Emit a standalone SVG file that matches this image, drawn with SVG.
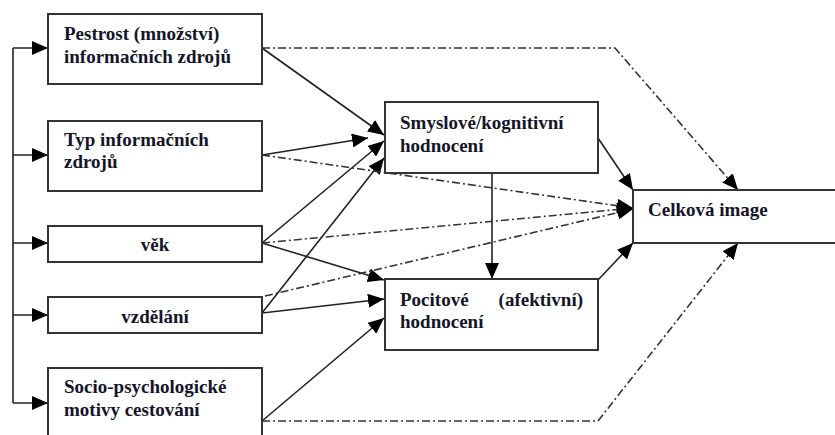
<svg xmlns="http://www.w3.org/2000/svg" width="835" height="435" viewBox="0 0 835 435">
<style>
.box{fill:#fff;stroke:#333;stroke-width:2}
.t{font-family:"Liberation Serif","Times New Roman",serif;font-weight:bold;font-size:19px;fill:#15152a}
.s{fill:none;stroke:#222;stroke-width:1.6}
.d{fill:none;stroke:#333;stroke-width:1.6;stroke-dasharray:8,3,2,3}
</style>
<defs>
<marker id="a" markerUnits="userSpaceOnUse" markerWidth="18" markerHeight="14" refX="16" refY="7" orient="auto">
<path d="M0,0 L16,7 L0,14 z" fill="#000"/>
</marker>
</defs>
<rect width="835" height="435" fill="#fff"/>
<g id="connectors">
<path class="s" d="M13,48 V403"/>
<path class="s" marker-end="url(#a)" d="M13,48 H48"/>
<path class="s" marker-end="url(#a)" d="M13,155 H48"/>
<path class="s" marker-end="url(#a)" d="M13,243 H48"/>
<path class="s" marker-end="url(#a)" d="M13,315 H48"/>
<path class="s" marker-end="url(#a)" d="M13,403 H48"/>
<path class="s" marker-end="url(#a)" d="M262,48 L384,135"/>
<path class="s" marker-end="url(#a)" d="M262,155 L368,138"/>
<path class="s" marker-end="url(#a)" d="M262,243 L384,141"/>
<path class="s" marker-end="url(#a)" d="M262,313 L384,158"/>
<path class="s" marker-end="url(#a)" d="M262,243 L384,280"/>
<path class="s" marker-end="url(#a)" d="M262,313 L384,299"/>
<path class="s" marker-end="url(#a)" d="M262,421 L384,318"/>
<path class="s" marker-end="url(#a)" d="M492,173 V279"/>
<path class="s" marker-end="url(#a)" d="M598,138 L633,190"/>
<path class="s" marker-end="url(#a)" d="M598,280 L633,243"/>
<path class="d" marker-end="url(#a)" d="M262,48 H615 L738,190"/>
<path class="d" marker-end="url(#a)" d="M262,155 L633,208"/>
<path class="d" marker-end="url(#a)" d="M262,243 L633,208"/>
<path class="d" marker-end="url(#a)" d="M265,296 L633,209"/>
<path class="d" marker-end="url(#a)" d="M262,421 H598 L738,243"/>
</g>
<g id="n1"><rect class="box" x="48" y="14" width="214" height="70"/><text class="t" x="64" y="40">Pestrost (množství)</text><text class="t" x="64" y="63">informačních zdrojů</text></g>
<g id="n2"><rect class="box" x="48" y="121" width="214" height="70"/><text class="t" x="64" y="146">Typ informačních</text><text class="t" x="64" y="168">zdrojů</text></g>
<g id="n3"><rect class="box" x="48" y="226" width="214" height="36"/><text class="t" x="155" y="251" text-anchor="middle">věk</text></g>
<g id="n4"><rect class="box" x="48" y="297" width="214" height="36"/><text class="t" x="155" y="323" text-anchor="middle">vzdělání</text></g>
<g id="n5"><rect class="box" x="48" y="368" width="214" height="80"/><text class="t" x="64" y="393">Socio-psychologické</text><text class="t" x="64" y="416">motivy cestování</text></g>
<g id="n6"><rect class="box" x="385" y="102" width="213" height="71"/><text class="t" x="400" y="129">Smyslové/kognitivní</text><text class="t" x="400" y="152">hodnocení</text></g>
<g id="n7"><rect class="box" x="385" y="279" width="213" height="71"/><text class="t" x="400" y="306">Pocitové</text><text class="t" x="583" y="306" text-anchor="end">(afektivní)</text><text class="t" x="400" y="328">hodnocení</text></g>
<g id="n8"><rect class="box" x="633" y="190" width="210" height="53"/><text class="t" x="648" y="216">Celková image</text></g>
</svg>
